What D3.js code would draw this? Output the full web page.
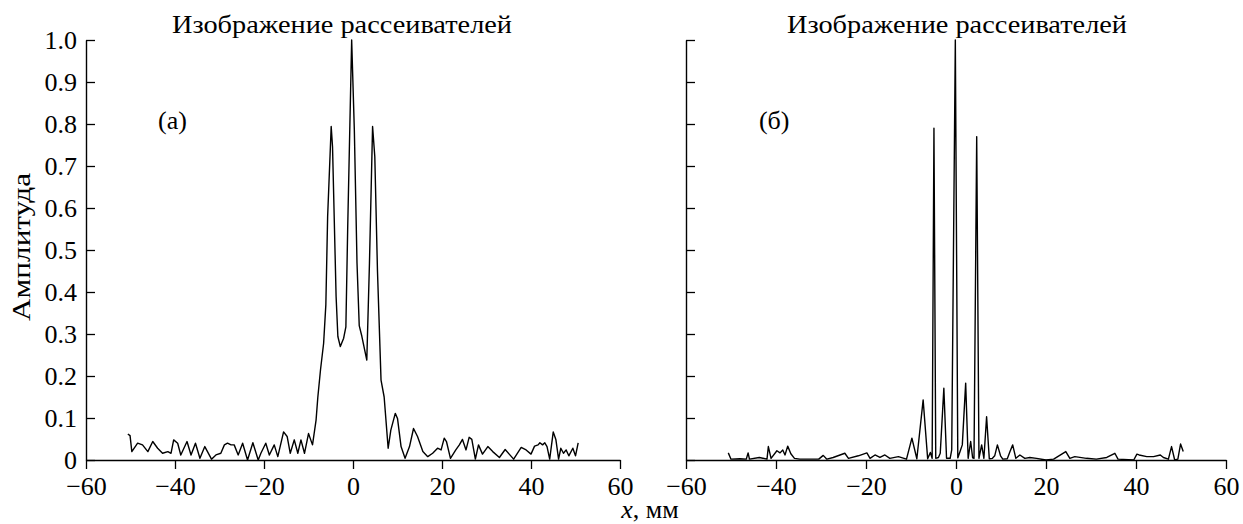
<!DOCTYPE html>
<html>
<head>
<meta charset="utf-8">
<script src="https://cdn.jsdelivr.net/npm/d3@7"></script>
<style>
  body { margin: 0; background: #fff; }
  text { font-family: "Liberation Serif", "Times New Roman", serif; fill: #000; }
</style>
</head>
<body>
<script>
// panel (а): amplitude vs x, mm
const xa = [-50.6, -50.1, -49.7, -48.4, -47.3, -46.1, -45.0, -43.9, -42.8, -41.6, -40.9, -40.3, -39.4, -38.7,
  -37.3, -36.4, -35.4, -34.4, -33.3, -31.8, -30.8, -29.7, -28.9, -28.2, -27.4, -26.7, -25.8, -24.8, -23.7,
  -22.5, -21.3, -20.7, -19.6, -18.8, -17.7, -16.9, -15.6, -14.8, -14.1, -13.2, -12.4, -11.7, -10.9, -10.0,
  -9.1, -8.3, -7.9, -7.3, -6.6, -6.1, -5.7, -4.9, -4.6, -3.8, -3.4, -2.85, -2.1, -1.6, -1.2, -0.3, 0.3,
  0.9, 1.4, 2.0, 3.1, 3.7, 4.4, 4.9, 5.5, 6.3, 7.0, 7.9, 8.5, 9.5, 10.0, 10.8, 11.7, 12.7, 13.6, 14.5,
  15.7, 16.8, 17.9, 19.0, 19.8, 20.5, 21.0, 21.9, 23.1, 23.9, 24.6, 25.4, 26.1, 26.7, 27.5, 28.2, 29.1,
  30.3, 31.4, 32.9, 34.2, 36.1, 37.8, 38.9, 40.0, 40.8, 41.6, 42.0, 42.6, 43.1, 43.6, 44.2, 45.0, 45.6,
  46.2, 46.7, 47.3, 47.9, 48.5, 49.4, 50.0, 50.6];
const ya = [0.062, 0.058, 0.02, 0.04, 0.036, 0.02, 0.044, 0.028, 0.016, 0.02, 0.016, 0.048, 0.04, 0.012,
  0.044, 0.012, 0.04, 0.004, 0.032, 0.002, 0.012, 0.016, 0.036, 0.04, 0.036, 0.036, 0.012, 0.04, 0.0,
  0.041, 0.0, 0.016, 0.04, 0.012, 0.036, 0.008, 0.067, 0.056, 0.016, 0.048, 0.016, 0.048, 0.016, 0.063,
  0.036, 0.095, 0.15, 0.215, 0.278, 0.37, 0.58, 0.794, 0.746, 0.39, 0.294, 0.27, 0.29, 0.317, 0.548, 1.0, 0.786,
  0.469, 0.32, 0.294, 0.238, 0.469, 0.794, 0.722, 0.45, 0.19, 0.15, 0.028, 0.071, 0.111, 0.099, 0.032, 0.004, 0.032, 0.075, 0.056,
  0.02, 0.008, 0.016, 0.028, 0.024, 0.052, 0.044, 0.004, 0.024, 0.036, 0.049, 0.024, 0.054, 0.049, 0.002, 0.036, 0.014,
  0.032, 0.02, 0.006, 0.025, 0.002, 0.03, 0.024, 0.014, 0.033, 0.036, 0.041, 0.036, 0.041, 0.032, 0.002, 0.067, 0.048,
  0.002, 0.028, 0.016, 0.024, 0.01, 0.028, 0.01, 0.041];

// panel (б)
const xb = [-50.6, -50.0, -48.0, -46.6, -46.2, -45.9, -43.7, -42.0, -41.7, -41.1, -39.8, -39.1, -38.5, -38.0,
  -37.4, -36.7, -35.9, -34.7, -30.5, -29.5, -28.7, -27.3, -24.7, -23.9, -21.7, -19.8, -19.1, -18.0, -16.9,
  -15.8, -14.7, -12.8, -11.0, -9.8, -8.7, -7.3, -6.3, -5.7, -5.3, -4.9, -4.5, -3.9, -3.5, -2.7, -2.1, -1.3,
  -0.95, -0.15, 0.4, 0.9, 1.4, 2.15, 2.7, 3.26, 3.7, 4.0, 4.6, 5.1, 5.7, 6.2, 6.8, 7.4, 8.1, 8.6, 9.2, 9.9,
  10.4, 11.4, 12.0, 12.6, 13.3, 14.2, 15.3, 16.4, 17.9, 20.0, 21.7, 24.4, 25.3, 26.4, 29.0, 31.2, 33.5, 35.3,
  36.0, 39.5, 40.2, 40.7, 42.4, 43.9, 45.4, 46.1, 47.2, 47.9, 48.6, 49.3, 49.9, 50.5];
const yb = [0.017, 0.002, 0.003, 0.002, 0.017, 0.002, 0.006, 0.002, 0.032, 0.004, 0.022, 0.017, 0.024, 0.012,
  0.033, 0.015, 0.004, 0.002, 0.002, 0.011, 0.002, 0.006, 0.016, 0.004, 0.01, 0.017, 0.004, 0.012, 0.006,
  0.012, 0.004, 0.008, 0.002, 0.052, 0.003, 0.143, 0.003, 0.018, 0.004, 0.79, 0.004, 0.006, 0.016, 0.171, 0.004, 0.004,
  0.024, 1.0, 0.005, 0.02, 0.036, 0.183, 0.004, 0.044, 0.005, 0.004, 0.77, 0.004, 0.036, 0.004, 0.103, 0.003, 0.004, 0.01, 0.036, 0.01,
  0.002, 0.003, 0.02, 0.036, 0.004, 0.012, 0.004, 0.006, 0.004, 0.0, 0.002, 0.02, 0.004, 0.008, 0.004, 0.002, 0.006, 0.016,
  0.002, 0.0, 0.014, 0.012, 0.008, 0.008, 0.012, 0.006, 0.002, 0.032, 0.0, 0.002, 0.038, 0.02];

const xTicks = [-60, -40, -20, 0, 20, 40, 60];
const yTicks = [0, 0.1, 0.2, 0.3, 0.4, 0.5, 0.6, 0.7, 0.8, 0.9, 1.0];
const title = "Изображение рассеивателей";
const panelLabels = ["(а)", "(б)"];

const W = 1243, H = 524;
const svg = d3.select("body").append("svg")
    .attr("width", W)
    .attr("height", H);

const y = d3.scaleLinear().domain([0, 1]).range([460, 40]);

const panels = [
  {xs: xa, ys: ya, range: [86, 620], labels: true, tag: panelLabels[0], titleX: 342},
  {xs: xb, ys: yb, range: [686, 1226], labels: false, tag: panelLabels[1], titleX: 957}
];

panels.forEach(p => {
  const x = d3.scaleLinear().domain([-60, 60]).range(p.range);

  const gx = svg.append("g")
      .attr("transform", "translate(0," + y(0) + ")")
      .call(d3.axisBottom(x).tickValues(xTicks).tickSize(9).tickSizeOuter(0).tickPadding(8));
  const gy = svg.append("g")
      .attr("transform", "translate(" + x(-60) + ",0)")
      .call(d3.axisLeft(y).tickValues(yTicks).tickSize(-9).tickSizeOuter(0).tickPadding(9)
        .tickFormat(p.labels ? (d => d === 0 ? "0" : d3.format(".1f")(d)) : ""));

  [gx, gy].forEach(g => {
    g.select(".domain").attr("stroke", "#000").attr("stroke-width", 1.4);
    g.selectAll(".tick line").attr("stroke", "#000").attr("stroke-width", 1.3);
    g.selectAll(".tick text")
      .attr("font-family", "Liberation Serif, Times New Roman, serif")
      .attr("font-size", 26)
      .attr("fill", "#000");
  });

  const line = d3.line()
      .x((d, i) => x(p.xs[i]))
      .y(d => y(d));

  svg.append("path")
      .attr("d", line(p.ys))
      .attr("fill", "none")
      .attr("stroke", "#000")
      .attr("stroke-width", 1.4)
      .attr("stroke-linejoin", "round");

  // cyrillic in the source is set wider than Liberation Serif
  svg.append("text")
      .attr("x", p.titleX)
      .attr("y", 33)
      .attr("text-anchor", "middle")
      .attr("font-size", 26)
      .attr("textLength", 340)
      .attr("lengthAdjust", "spacingAndGlyphs")
      .text(title);

  svg.append("text")
      .attr("x", x(-43.8))
      .attr("y", 129)
      .attr("font-size", 26)
      .text(p.tag);
});

svg.append("text")
    .attr("transform", "translate(30,247) rotate(-90)")
    .attr("text-anchor", "middle")
    .attr("font-size", 26)
    .attr("textLength", 148)
    .attr("lengthAdjust", "spacingAndGlyphs")
    .text("Амплитуда");

const xl = svg.append("text")
    .attr("x", 650)
    .attr("y", 518)
    .attr("text-anchor", "middle")
    .attr("font-size", 26);
xl.append("tspan").attr("font-style", "italic").text("x");
xl.append("tspan").text(", мм");
</script>
</body>
</html>
